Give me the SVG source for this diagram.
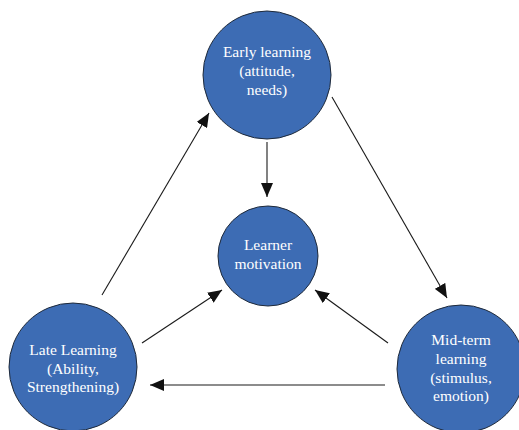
<svg xmlns="http://www.w3.org/2000/svg" width="519" height="430" viewBox="0 0 519 430">
<style>
.node circle{fill:#3d6cb4;stroke:#1f2a3a;stroke-width:1}
.node text{fill:#fff;font-family:"Liberation Serif","Times New Roman",serif;font-size:15.5px;text-anchor:middle}
.conn line{stroke:#1a1a1a;stroke-width:1.1;marker-end:url(#ah)}
</style>
<defs>
<marker id="ah" markerUnits="userSpaceOnUse" markerWidth="16" markerHeight="12" refX="14" refY="6" orient="auto">
<path d="M0,0 L14,6 L0,12 Z" fill="#111"/>
</marker>
</defs>
<rect width="519" height="430" fill="#fff"/>
<g id="connectors" class="conn">
<line x1="267" y1="142" x2="267" y2="197"/>
<line x1="102" y1="295" x2="209" y2="113"/>
<line x1="332" y1="97" x2="447" y2="298"/>
<line x1="388" y1="343" x2="315" y2="290"/>
<line x1="142" y1="343" x2="222" y2="290"/>
<line x1="385" y1="385" x2="150" y2="385"/>
</g>
<g id="early" class="node">
<circle cx="267" cy="75" r="64"/>
<text x="267" y="57">Early learning</text>
<text x="267" y="76">(attitude,</text>
<text x="267" y="95">needs)</text>
</g>
<g id="motivation" class="node">
<circle cx="268" cy="256" r="50"/>
<text x="268" y="250">Learner</text>
<text x="268" y="269">motivation</text>
</g>
<g id="late" class="node">
<circle cx="73" cy="367" r="64"/>
<text x="73" y="355">Late Learning</text>
<text x="73" y="374">(Ability,</text>
<text x="73" y="392">Strengthening)</text>
</g>
<g id="mid" class="node">
<circle cx="461" cy="369" r="64"/>
<text x="461" y="345">Mid-term</text>
<text x="461" y="364">learning</text>
<text x="461" y="383">(stimulus,</text>
<text x="461" y="401">emotion)</text>
</g>
</svg>
